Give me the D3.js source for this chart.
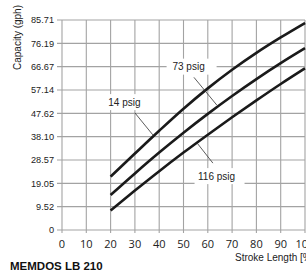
<!DOCTYPE html>
<html><head><meta charset="utf-8">
<script src="https://cdn.jsdelivr.net/npm/d3@7"></script>
<style>html,body{margin:0;padding:0;background:#fff;}svg{display:block;}</style>
</head><body>
<svg id="c" width="306" height="274"></svg>
<script>
const strokeLength = [20, 30, 40, 50, 60, 70, 80, 90, 100];
const cap14 = [21.8, 31.2, 40.5, 49.5, 57.8, 65.4, 72.3, 78.6, 84.5];
const cap73 = [14.3, 23.1, 31.6, 39.7, 47.4, 54.7, 61.6, 68.1, 74.2];
const cap116 = [8.0, 16.1, 24.0, 31.6, 38.9, 46.0, 52.9, 59.6, 66.0];
const xTicks = [0, 10, 20, 30, 40, 50, 60, 70, 80, 90, 100];
const yTickLabels = ["0", "9.52", "19.05", "28.57", "38.10", "47.62", "57.14", "66.67", "76.19", "85.71"];
const seriesNames = ["14 psig", "73 psig", "116 psig"];

const yTicks = yTickLabels.map(Number);
const series = [cap14, cap73, cap116];
// annotation anchors (data coords): label centre, pointer start, pointer end
const notes = [
  {label: [25.7, 52.2], from: [30.0, 47.8], to: [37.4, 38.8], box: [-20, 20]},
  {label: [52.1, 66.67], from: [54.3, 62.3], to: [63.7, 51.0], box: [-22, 28]},
  {label: [63.6, 22.0], from: [62.1, 27.3], to: [55.6, 35.5], box: [-22, 28]}
];

const svg = d3.select("#c");
const x = d3.scaleLinear().domain([0, 100]).range([62, 305]);
const y = d3.scaleLinear().domain([0, 85.71]).range([230, 20]);
const grid = "#a3a3a3";

// vertical grid
svg.append("g").selectAll("line").data(xTicks).join("line")
  .attr("x1", d => x(d)).attr("x2", d => x(d))
  .attr("y1", y(85.71)).attr("y2", y(0) + 3)
  .attr("stroke", grid).attr("stroke-width", 1.1);
// horizontal grid
svg.append("g").selectAll("line").data(yTicks).join("line")
  .attr("x1", x(0) - 5).attr("x2", x(100))
  .attr("y1", d => y(d)).attr("y2", d => y(d))
  .attr("stroke", grid).attr("stroke-width", 1.1);

// y tick labels
svg.append("g").selectAll("text").data(yTicks).join("text")
  .attr("x", x(0) - 8).attr("y", d => y(d)).attr("dy", "0.35em")
  .attr("text-anchor", "end")
  .attr("font-family", "Liberation Sans, Arial, sans-serif").attr("font-size", 9.2)
  .attr("fill", "#222")
  .text((d, i) => yTickLabels[i]);
// x tick labels
svg.append("g").selectAll("text").data(xTicks).join("text")
  .attr("x", d => x(d)).attr("y", 247.5)
  .attr("text-anchor", "middle")
  .attr("font-family", "Open Sans, DejaVu Sans, sans-serif").attr("font-size", 11)
  .attr("fill", "#222")
  .text(d => d);

// curves
const line = d3.line().x((d, i) => x(strokeLength[i])).y(d => y(d)).curve(d3.curveMonotoneX);
svg.append("g").selectAll("path").data(series).join("path")
  .attr("d", d => line(d))
  .attr("fill", "none").attr("stroke", "#1a1a1a").attr("stroke-width", 2.6);

// annotations
const ng = svg.append("g");
notes.forEach((n, i) => {
  const cx = x(n.label[0]), cy = y(n.label[1]);
  ng.append("rect").attr("x", cx + n.box[0]).attr("y", cy - 8)
    .attr("width", n.box[1] - n.box[0]).attr("height", 16).attr("fill", "#fff");
  ng.append("line")
    .attr("x1", x(n.from[0])).attr("y1", y(n.from[1]))
    .attr("x2", x(n.to[0])).attr("y2", y(n.to[1]))
    .attr("stroke", "#333").attr("stroke-width", 0.8);
  ng.append("text").attr("x", cx).attr("y", cy).attr("dy", "0.35em")
    .attr("text-anchor", "middle")
    .attr("font-family", "Liberation Sans, Arial, sans-serif").attr("font-size", 10)
    .attr("fill", "#222").text(seriesNames[i]);
});

// axis titles
svg.append("text").attr("transform", "translate(21,37.5) rotate(-90)")
  .attr("text-anchor", "middle")
  .attr("font-family", "Liberation Sans, Arial, sans-serif").attr("font-size", 10)
  .attr("fill", "#222").text("Capacity (gph)");
svg.append("text").attr("x", 235).attr("y", 261)
  .attr("font-family", "Liberation Sans, Arial, sans-serif").attr("font-size", 10)
  .attr("fill", "#222").text("Stroke Length [%]");
svg.append("text").attr("x", 10).attr("y", 270)
  .attr("font-family", "Liberation Sans, Arial, sans-serif").attr("font-size", 11.5)
  .attr("font-weight", "bold").attr("fill", "#111").text("MEMDOS LB 210");
</script>
</body></html>
